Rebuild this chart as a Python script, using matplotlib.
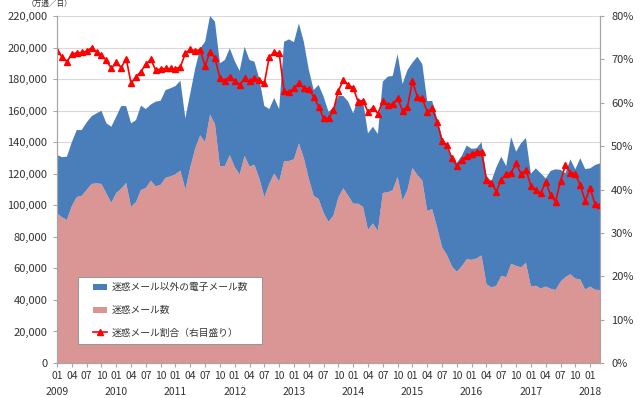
import matplotlib
matplotlib.use("Agg")
import matplotlib.pyplot as plt
import matplotlib.transforms as mtransforms
from matplotlib.patches import Rectangle
import numpy as np

plt.rcParams['font.family'] = ['Noto Sans CJK JP', 'DejaVu Sans']

# monthly, 2009-01 .. 2018-03 (万通/日)
total = [131900, 130500, 130800, 140000, 147700, 147700, 152500, 156400, 158300, 159900,
         152000, 149800, 156200, 162900, 162900, 152000, 154000, 163200, 161000, 163900,
         165700, 166300, 173100, 174200, 175600, 179000, 155100, 171000, 186800, 199500,
         203700, 220000, 216400, 190000, 192100, 199500, 191500, 185200, 200500, 192100,
         191000, 180000, 163000, 161000, 168000, 161000, 203700, 205200, 203400, 215300,
         203700, 186000, 173100, 176300, 169000, 159300, 162000, 169300, 169300, 165700,
         158300, 168000, 166000, 145600, 149800, 145200, 178400, 181500, 182000, 195900,
         176900, 185800, 190400, 194200, 189500, 166000, 166200, 155000, 143500, 136600,
         129800, 127000, 131300, 137900, 135800, 136100, 140000, 118700, 115200, 124000,
         130800, 124800, 143300, 134000, 139300, 142700, 120000, 123400, 120300, 117000,
         121800, 122800, 122500, 120300, 129100, 122800, 129800, 123000, 123400, 125500,
         126600]
spam = [94900, 92400, 90700, 99500, 105200, 106000, 109700, 113500, 113900, 113500,
        107500, 101600, 107800, 110500, 114200, 99100, 102000, 109700, 111000, 115500,
        112000, 113000, 117500, 118300, 119700, 122000, 110000, 124000, 136000, 144300,
        140000, 157500, 151500, 124800, 124800, 131800, 124200, 119500, 131300, 124600,
        125600, 116800, 105200, 113600, 120200, 115000, 127800, 128100, 129200, 139200,
        130000, 117000, 106000, 104000, 95300, 89500, 93500, 105000, 110800, 106000,
        101000, 101000, 99000, 84500, 88500, 83800, 107800, 108300, 109500, 118000,
        103100, 109800, 123600, 119200, 115600, 96500, 97500, 86000, 73500, 68500,
        61300, 57800, 61400, 65800, 65400, 66300, 68200, 50000, 47900, 49000,
        55300, 54400, 62900, 61600, 60700, 63500, 48500, 49000, 47200, 48500,
        47100, 46300, 51500, 54500, 56300, 53500, 53000, 46500, 48500, 46500,
        46200]
ratio = [72.0, 70.6, 69.5, 71.2, 71.5, 71.6, 71.9, 72.7, 71.8, 71.0,
         69.8, 67.9, 69.3, 68.1, 70.2, 64.5, 66.0, 67.2, 68.9, 70.0,
         67.5, 67.8, 67.9, 67.9, 67.8, 68.3, 71.4, 72.3, 72.0, 72.2,
         68.5, 71.8, 70.3, 65.7, 65.1, 66.0, 65.0, 64.2, 65.6, 64.9,
         65.6, 65.2, 64.5, 70.6, 71.6, 71.4, 62.8, 62.4, 63.3, 64.6,
         63.5, 63.1, 61.4, 59.1, 56.4, 56.4, 58.3, 62.8, 65.2, 64.1,
         63.5, 60.2, 60.5, 57.9, 58.9, 57.5, 60.4, 59.5, 59.7, 61.0,
         58.2, 59.1, 64.9, 61.4, 61.0, 57.9, 58.7, 55.6, 51.2, 50.2,
         47.2, 45.5, 46.8, 47.7, 48.2, 48.7, 48.7, 42.2, 41.6, 39.5,
         42.3, 43.6, 43.9, 46.0, 43.6, 44.5, 40.9, 39.9, 39.1, 41.8,
         38.7, 37.2, 42.0, 45.6, 43.9, 43.6, 41.0, 37.4, 40.3, 36.6,
         36.4]

labels = ['迷惑メール以外の電子メール数', '迷惑メール数', '迷惑メール割合（右目盛り）']
BLUE = '#4A7EBB'
PINK = '#D99694'
RED = '#FF0000'
GRAY = '#A6A6A6'
TXT = '#333333'

x = np.arange(len(total))
spam = np.array(spam)
other = np.array(total) - spam

fig = plt.figure(figsize=(6.4, 3.98), dpi=100)
ax = fig.add_axes([0.0891, 0.0879, 0.8484, 0.8719])
ax2 = ax.twinx()

polys = ax.stackplot(x, spam, other, colors=[PINK, BLUE], lw=0)
line, = ax2.plot(x, np.array(ratio) / 100, color=RED, lw=1.2, marker='^', ms=4)

ax.set_xlim(0, len(x) - 1)
ax.set_ylim(0, 220000)
ax2.set_ylim(0, 0.8)

ax.set_yticks(np.arange(0, 220001, 20000))
ax.set_yticklabels([f'{v:,}' for v in range(0, 220001, 20000)])
ax2.set_yticks(np.arange(0, 0.81, 0.1))
ax2.set_yticklabels([f'{v}%' for v in range(0, 81, 10)])

# month labels every quarter, year row underneath
xt = np.arange(0, len(x), 3)
ax.set_xticks(xt)
ax.set_xticklabels([f'{k % 12 + 1:02d}' for k in xt])
trans = mtransforms.blended_transform_factory(ax.transData, ax.transAxes)
for k in xt:
    if k % 12 == 0:
        ax.text(k, -0.068, str(2009 + k // 12), transform=trans, ha='center', va='top',
                fontsize=7.5, color=TXT)

ax.set_axisbelow(True)
ax.yaxis.grid(True, color='#D9D9D9', lw=0.8)

for a in (ax, ax2):
    a.spines['top'].set_visible(False)
    for s in ('left', 'right', 'bottom'):
        a.spines[s].set_color(GRAY)
        a.spines[s].set_linewidth(0.8)
ax.tick_params(axis='y', colors=GRAY, labelcolor=TXT, labelsize=8, length=3, width=0.8, pad=4)
ax.tick_params(axis='x', colors=GRAY, labelcolor=TXT, labelsize=7.5, length=3, width=0.8, pad=3)
ax2.tick_params(axis='y', colors=GRAY, labelcolor=TXT, labelsize=8, length=3, width=0.8, pad=5)

fig.text(0.078, 0.999, '（万通／日）', fontsize=5.5, color=TXT, ha='center', va='top')

# legend box drawn by hand, entries placed inside it
ax2.add_patch(Rectangle((0.0387, 0.0548), 0.339, 0.193, transform=ax2.transAxes,
                        facecolor='white', edgecolor='#8C8C8C', lw=0.6, zorder=5))
leg = ax2.legend([polys[1], polys[0], line], labels, loc='center left',
                 bbox_to_anchor=(0.066, 0.1527), borderaxespad=0, borderpad=0, fontsize=7,
                 frameon=False, labelspacing=1.3, handlelength=1.5, handleheight=0.55,
                 handletextpad=0.4)
leg.set_zorder(6)
for t in leg.get_texts():
    t.set_color(TXT)

fig.savefig('out.png', dpi=100)
